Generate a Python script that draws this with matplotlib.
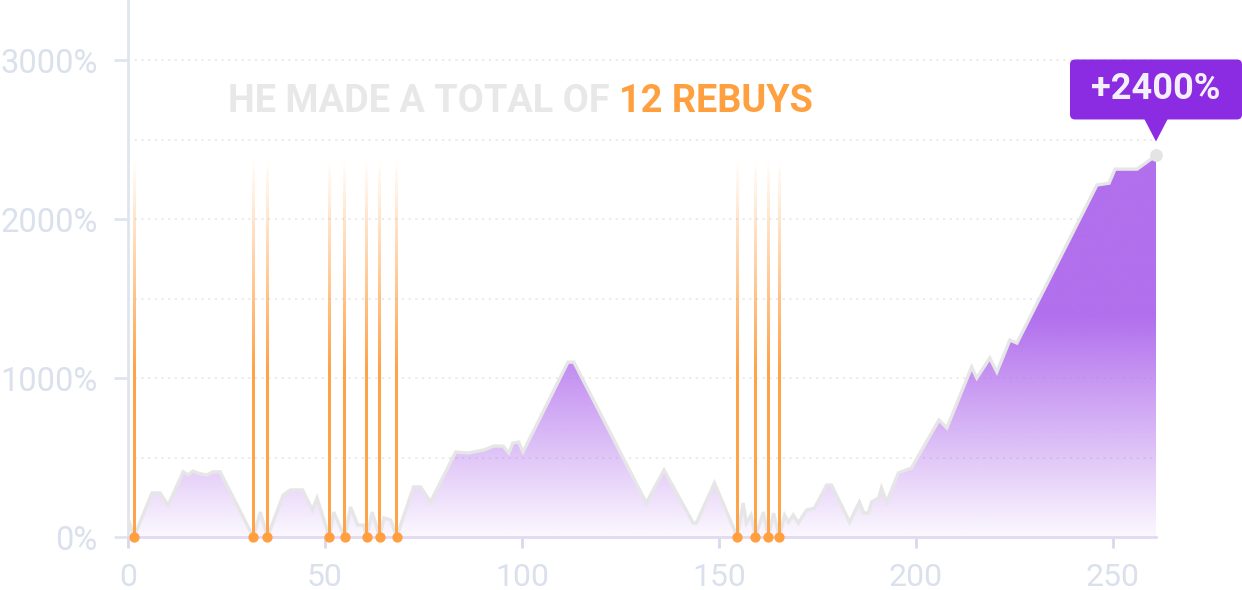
import numpy as np
import matplotlib
matplotlib.use("Agg")
import matplotlib.pyplot as plt
from matplotlib.patches import Polygon, FancyBboxPatch
from matplotlib.ticker import MultipleLocator, FuncFormatter
from matplotlib.transforms import IdentityTransform

# ---------------- data ----------------
hand_x = [0, 1.5, 6.1, 8.1, 10.2, 14, 15.3, 16.5, 18, 20, 21.6, 23.4, 31.8, 33.6, 35.4,
          39.4, 41.2, 44.3, 46.8, 48, 51.1, 52.2, 55, 56.5, 58.3, 59.8, 60.6, 62, 63.9,
          65, 66.7, 68.2, 72.5, 74.3, 76.8, 83.2, 86.3, 90.3, 92.9, 95.2, 96.7, 97.7,
          99.2, 100.3, 111.7, 113.2, 131.6, 136.1, 143.5, 144.3, 148.9, 154.7, 156.2,
          157, 158.2, 159.3, 161.3, 162.6, 163.9, 165.4, 166.7, 167.7, 168.9, 170.2,
          172.3, 174.3, 177.4, 178.6, 183.2, 185.7, 186.8, 188, 188.8, 190.6, 191.3,
          192.6, 195.6, 198.9, 205.9, 207.9, 214.2, 215.5, 218.8, 220.6, 223.9, 225.7,
          246, 249.1, 250.6, 256.2, 261]
profit_pct = [120, 0, 277, 277, 200, 410, 390, 415, 400, 390, 410, 410, 0, 157, 0,
              264, 296, 296, 170, 245, 0, 157, 0, 189, 75, 75, 0, 157, 0,
              120, 107, 0, 315, 315, 220, 535, 528, 547, 572, 572, 528, 591,
              597, 535, 1100, 1100, 214, 421, 88, 88, 340, 0, 214,
              88, 138, 0, 157, 0, 150, 0, 138, 94, 138, 88,
              170, 182, 327, 327, 94, 220, 151, 151, 220, 245, 308,
              220, 403, 434, 736, 686, 1069, 1000, 1126, 1038, 1239, 1220,
              2214, 2226, 2314, 2314, 2400]
rebuy_x = [1.5, 31.8, 35.4, 51.1, 55, 60.6, 63.9, 68.2, 154.7, 159.3, 162.6, 165.4]
y_tick_values = [0, 1000, 2000, 3000]
x_tick_values = [0, 50, 100, 150, 200, 250]
title_gray = "HE MADE A TOTAL OF "
title_orange = "12 REBUYS"
final_label = "+2400%"

# ---------------- style ----------------
plt.rcParams['font.family'] = ['Roboto', 'DejaVu Sans']
W, H, DPI = 1242, 590, 100
fig = plt.figure(figsize=(W / DPI, H / DPI), dpi=DPI)
ax = fig.add_axes([128 / W, (H - 537) / H, (1156 - 128) / W, 537 / H])

XMAX = hand_x[-1]
YMAX = 3378
ax.set_xlim(0, XMAX)
ax.set_ylim(0, YMAX)

# gradient fill under curve
verts = list(zip(hand_x, profit_pct)) + [(XMAX, 0), (0, 0)]
poly = Polygon(verts, closed=True, facecolor='none', edgecolor='none')
ax.add_patch(poly)
ny = 400
yy = np.linspace(0, 2450, ny)
alpha = np.clip(0.05 + yy / 1450.0, 0, 1)
base = np.array([178, 112, 237]) / 255.0
grad = np.ones((ny, 1, 4))
grad[:, 0, :3] = base
grad[:, 0, 3] = alpha
im = ax.imshow(grad, extent=[0, XMAX, 0, 2450], origin='lower', aspect='auto',
               zorder=1, interpolation='bilinear')
im.set_clip_path(poly)

# gray line
ax.plot(hand_x, profit_pct, color='#e6e6e6', lw=2.4, zorder=3, solid_joinstyle='miter')

# rebuy lines with fading gradient
top = 2370
nl = 300
ys = np.linspace(0, top, nl)
frac = (top - ys) / top
la = np.clip(frac / 0.55, 0, 1)
lgrad = np.ones((nl, 1, 4))
lgrad[:, 0, :3] = np.array([255, 163, 74]) / 255.0
lgrad[:, 0, 3] = la
hw = 1.3 * XMAX / (1156 - 128)
for rx in rebuy_x:
    ax.imshow(lgrad, extent=[rx - hw, rx + hw, 0, top], origin='lower', aspect='auto',
              zorder=4, interpolation='bilinear')
ax.scatter(rebuy_x, [0] * len(rebuy_x), s=55, color='#ff9f3f', zorder=6, clip_on=False,
           linewidths=0)

# end point
ax.scatter([hand_x[-1]], [profit_pct[-1]], s=85, color='#e4e4e4', zorder=7, clip_on=False,
           linewidths=0)
ax.set_xlim(0, XMAX)
ax.set_ylim(0, YMAX)

# axes styling
for s in ['top', 'right']:
    ax.spines[s].set_visible(False)
ax.spines['left'].set_color('#dfe5ef')
ax.spines['left'].set_linewidth(2)
ax.spines['bottom'].set_color('#e2daf1')
ax.spines['bottom'].set_linewidth(2)
ax.spines['bottom'].set_zorder(5)

ax.set_yticks(y_tick_values)
ax.yaxis.set_major_formatter(FuncFormatter(lambda v, p: f"{int(v)}%"))
ax.yaxis.set_minor_locator(MultipleLocator(500))
ax.set_xticks(x_tick_values)
ax.tick_params(axis='y', which='major', length=10, width=2, color='#dfe5ef',
               labelcolor='#dae1ec', labelsize=23.5, pad=12)
ax.tick_params(axis='y', which='minor', length=0)
ax.tick_params(axis='x', which='major', length=8, width=2, color='#dcd6ee',
               labelcolor='#dae1ec', labelsize=23, pad=11)
ax.grid(axis='y', which='both', linestyle=(0, (1.2, 2.5)), color='#e9e9e9', lw=1.3, zorder=0)
ax.set_axisbelow(True)

# title text
fig.canvas.draw()
r = fig.canvas.get_renderer()
t1 = fig.text(228 / W, 1 - 101 / H, title_gray, color='#e8e8e8', fontsize=27.3,
              fontweight='bold', ha='left', va='center')
bb = t1.get_window_extent(renderer=r)
fig.text(bb.x1 / W, 1 - 101 / H, title_orange, color='#ffa040', fontsize=27.3,
         fontweight='bold', ha='left', va='center')

# annotation callout
px, py = ax.transData.transform((hand_x[-1], profit_pct[-1]))
tip_y = py + 14
box_w, box_h = 172, 60
box_y0 = tip_y + 22
box = FancyBboxPatch((px - box_w / 2, box_y0), box_w, box_h,
                     boxstyle='round,pad=0,rounding_size=5', transform=IdentityTransform(),
                     facecolor='#8b2be2', edgecolor='none', zorder=10)
fig.patches.append(box)
tri = Polygon([(px - 12, box_y0 + 1), (px + 12, box_y0 + 1), (px, tip_y)], closed=True,
              transform=IdentityTransform(), facecolor='#8b2be2', edgecolor='none', zorder=10)
fig.patches.append(tri)
fig.text((px) / W, (box_y0 + box_h / 2) / H, final_label, color='#f4f0fa', fontsize=26,
         fontweight='bold', ha='center', va='center', zorder=11)

fig.savefig('out.png', dpi=DPI)
